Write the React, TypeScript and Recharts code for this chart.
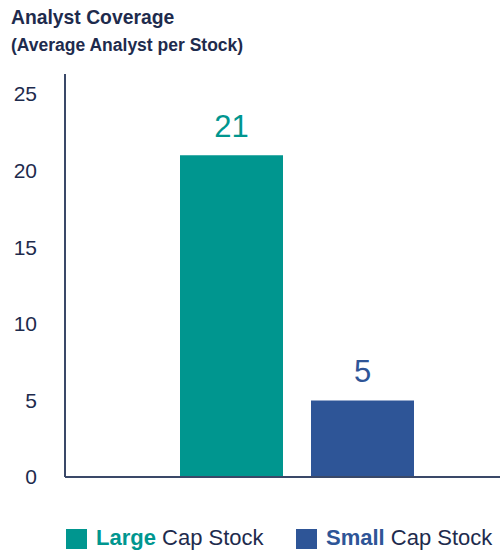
import React from "react";
import { BarChart, Bar, XAxis, YAxis, Cell, LabelList } from "recharts";

const categories = ["Large Cap Stock", "Small Cap Stock"];
const values = [21, 5];
const colors = ["#00968f", "#2e5597"];
const yTicks = [0, 5, 10, 15, 20, 25];

const data = categories.map((name, i) => ({ name, value: values[i], color: colors[i] }));

const NAVY = "#1e2b4d";
const FONT = "'Liberation Sans', Arial, Helvetica, sans-serif";

const renderLabel = (props: any) => {
  const { x, y, width, value, index } = props;
  return (
    <text
      x={x + width / 2}
      y={y - 18}
      textAnchor="middle"
      fill={colors[index]}
      fontSize={31}
      fontFamily={FONT}
      fontWeight={500}
    >
      {value}
    </text>
  );
};

export default function App() {
  return (
    <div style={{ position: "absolute", left: 0, top: 0, width: 501, height: 552, background: "#fff", fontFamily: FONT }}>
      <div style={{ position: "absolute", left: 11, top: 5, fontSize: 21, fontWeight: 700, color: NAVY, whiteSpace: "nowrap", transform: "scaleX(0.92)", transformOrigin: "left top" }}>
        Analyst Coverage
      </div>
      <div style={{ position: "absolute", left: 11, top: 35, fontSize: 17.5, fontWeight: 700, color: NAVY, whiteSpace: "nowrap" }}>
        (Average Analyst per Stock)
      </div>
      <BarChart
        width={501}
        height={552}
        data={data}
        margin={{ top: 74, right: 1, bottom: 73, left: 0 }}
        barSize={103}
      >
        <XAxis
          dataKey="name"
          axisLine={{ stroke: "#3a4868", strokeWidth: 2 }}
          tickLine={false}
          tick={false}
          height={2}
          padding={{ left: 101, right: 72 }}
        />
        <YAxis
          width={65}
          domain={[0, 26.3]}
          ticks={yTicks}
          axisLine={{ stroke: "#3a4868", strokeWidth: 2 }}
          tickLine={false}
          tickSize={0}
          tickMargin={28}
          tick={{ fill: NAVY, fontSize: 21, fontFamily: FONT }}
        />
        <Bar dataKey="value" isAnimationActive={false}>
          {data.map((d, i) => (
            <Cell key={i} fill={d.color} />
          ))}
          <LabelList dataKey="value" content={renderLabel} />
        </Bar>
      </BarChart>
      <span style={{ position: "absolute", left: 66, top: 529, width: 21, height: 20, background: colors[0] }} />
      <div style={{ position: "absolute", left: 96, top: 525, fontSize: 22, color: NAVY, whiteSpace: "nowrap" }}>
        <span style={{ fontWeight: 700, color: colors[0] }}>Large</span> Cap Stock
      </div>
      <span style={{ position: "absolute", left: 296, top: 529, width: 21, height: 20, background: colors[1] }} />
      <div style={{ position: "absolute", left: 326, top: 525, fontSize: 22, color: NAVY, whiteSpace: "nowrap" }}>
        <span style={{ fontWeight: 700, color: colors[1] }}>Small</span> Cap Stock
      </div>
    </div>
  );
}
